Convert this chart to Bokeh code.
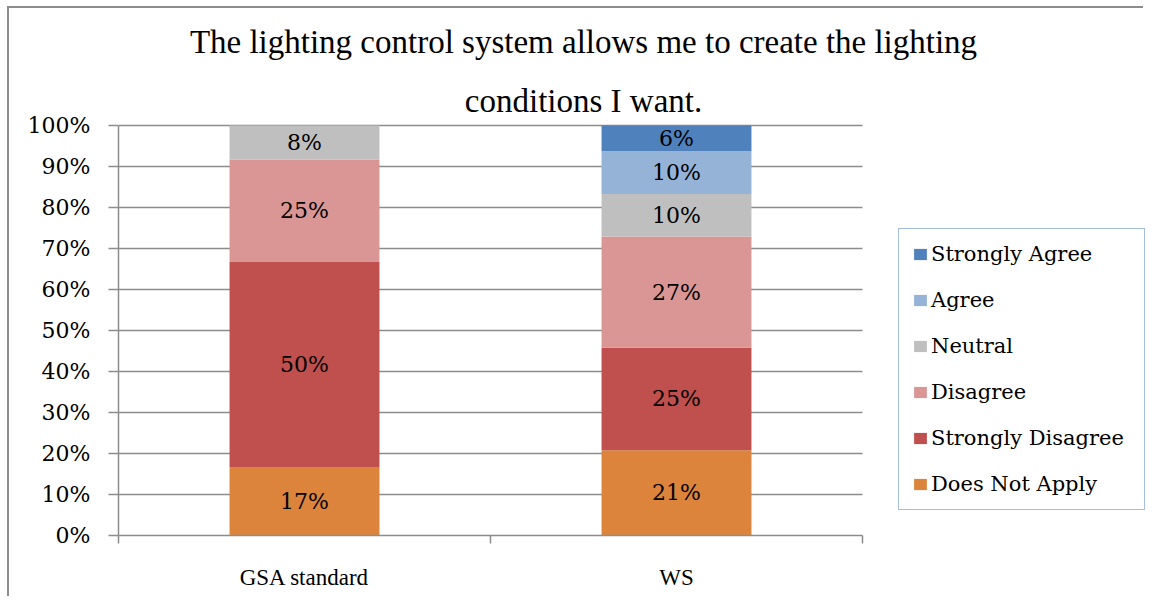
from bokeh.plotting import figure
from bokeh.models import (Range1d, FixedTicker, Label, Legend, LegendItem, ColumnDataSource)
from bokeh.core.properties import value
from bokeh.embed import file_html
from bokeh.resources import INLINE

categories = ["GSA standard", "WS"]
responses = ["Does Not Apply", "Strongly Disagree", "Disagree", "Neutral", "Agree", "Strongly Agree"]
does_not_apply = [16.7, 20.8]
strongly_disagree = [50.0, 25.0]
disagree = [25.0, 27.1]
neutral = [8.3, 10.4]
agree = [0.0, 10.4]
strongly_agree = [0.0, 6.3]
colors = ["#DD843C", "#C0504D", "#D99694", "#BFBFBF", "#95B3D7", "#4F81BD"]
y_ticks = [0, 10, 20, 30, 40, 50, 60, 70, 80, 90, 100]
title_lines = ["The lighting control system allows me to create the lighting",
               "conditions I want."]

series = [does_not_apply, strongly_disagree, disagree, neutral, agree, strongly_agree]
xpos = [0.5, 1.5]

SERIF = "DejaVu Serif"
NARROW = "Liberation Serif"
GRID = "#8c8c8c"

W, H = 1136, 590
LEFT, BOTTOM = 109, 63
PLOT_W, PLOT_H = 744, 410          # pixel size of the bar area
fw, fh = W - LEFT, H - BOTTOM       # frame size (frame extends to right/top edges)
x_end = 2 * fw / PLOT_W
y_end = 100 * fh / PLOT_H

p = figure(width=W, height=H, output_backend="svg", toolbar_location=None,
           x_range=Range1d(0, x_end), y_range=Range1d(0, y_end),
           min_border_left=LEFT, min_border_right=0, min_border_top=0, min_border_bottom=BOTTOM,
           styles={"border-top": "2px solid #8c8c8c", "border-left": "2px solid #8c8c8c",
                   "margin-left": "7px", "margin-top": "6px"})
p.outline_line_color = None
p.background_fill_color = "white"
p.border_fill_color = "white"

data = {"x": xpos}
for name, vals in zip(responses, series):
    data[name] = vals
src = ColumnDataSource(data)
rs = p.vbar_stack(responses, x="x", width=0.403, color=colors, line_color=None, source=src)

# segment labels
lx, ly, lt = [], [], []
for i in range(len(categories)):
    base = 0.0
    for vals in series:
        v = vals[i]
        if v > 0:
            lx.append(xpos[i])
            ly.append(base + v / 2)
            lt.append(f"{round(v):.0f}%")
        base += v
p.text(x=lx, y=ly, text=lt, text_font=value(SERIF), text_font_size="22px",
       text_align="center", text_baseline="middle", text_color="black")

# axes
p.yaxis.ticker = FixedTicker(ticks=y_ticks)
p.yaxis.bounds = (0, 100)
p.yaxis.major_label_overrides = {t: f"{t}%" for t in y_ticks}
p.yaxis.major_label_text_font = SERIF
p.yaxis.major_label_text_font_size = "22px"
p.yaxis.major_label_text_color = "black"
p.yaxis.major_tick_out = 10
p.yaxis.major_tick_in = 0
p.yaxis.minor_tick_line_color = None
p.yaxis.major_label_standoff = 18
for ax in (p.xaxis[0], p.yaxis[0]):
    ax.axis_line_color = GRID
    ax.axis_line_width = 1.5
    ax.major_tick_line_color = GRID
    ax.major_tick_line_width = 1.5

p.xaxis.ticker = FixedTicker(ticks=xpos, minor_ticks=[0, 1, 2])
p.xaxis.bounds = (0, 2)
p.xaxis.major_label_overrides = {x: c for x, c in zip(xpos, categories)}
p.xaxis.major_label_text_font = NARROW
p.xaxis.major_label_text_font_size = "23px"
p.xaxis.major_label_text_color = "black"
p.xaxis.major_tick_out = 0
p.xaxis.major_tick_in = 0
p.xaxis.minor_tick_out = 8
p.xaxis.minor_tick_in = 0
p.xaxis.minor_tick_line_color = GRID
p.xaxis.minor_tick_line_width = 1.5
p.xaxis.major_label_standoff = 21

p.xgrid.grid_line_color = None
p.ygrid.grid_line_color = GRID
p.ygrid.grid_line_width = 1.5
p.ygrid.grid_line_alpha = 1.0
p.ygrid.bounds = (0, 100)
p.ygrid.cross_bounds = (0, 2)

# title
for txt, yy in zip(title_lines, [494, 435]):
    p.add_layout(Label(x=465, y=yy, x_units="screen", y_units="screen", text=txt,
                       text_font=NARROW, text_font_size="33px",
                       text_align="center", text_baseline="middle", text_color="black"))

# legend
items = [LegendItem(label=name, renderers=[r]) for name, r in zip(responses, rs)][::-1]
legend = Legend(items=items, location=(780, 25), orientation="vertical",
                label_text_font=SERIF, label_text_font_size="21px", label_text_color="black",
                glyph_width=16, glyph_height=14, label_standoff=3, label_width=200, spacing=22,
                padding=13, margin=0, border_line_color="#4A7EBB", border_line_width=1.5,
                background_fill_color="white", background_fill_alpha=1.0)
p.add_layout(legend, "center")

open("out.html", "w").write(file_html(p, INLINE))
